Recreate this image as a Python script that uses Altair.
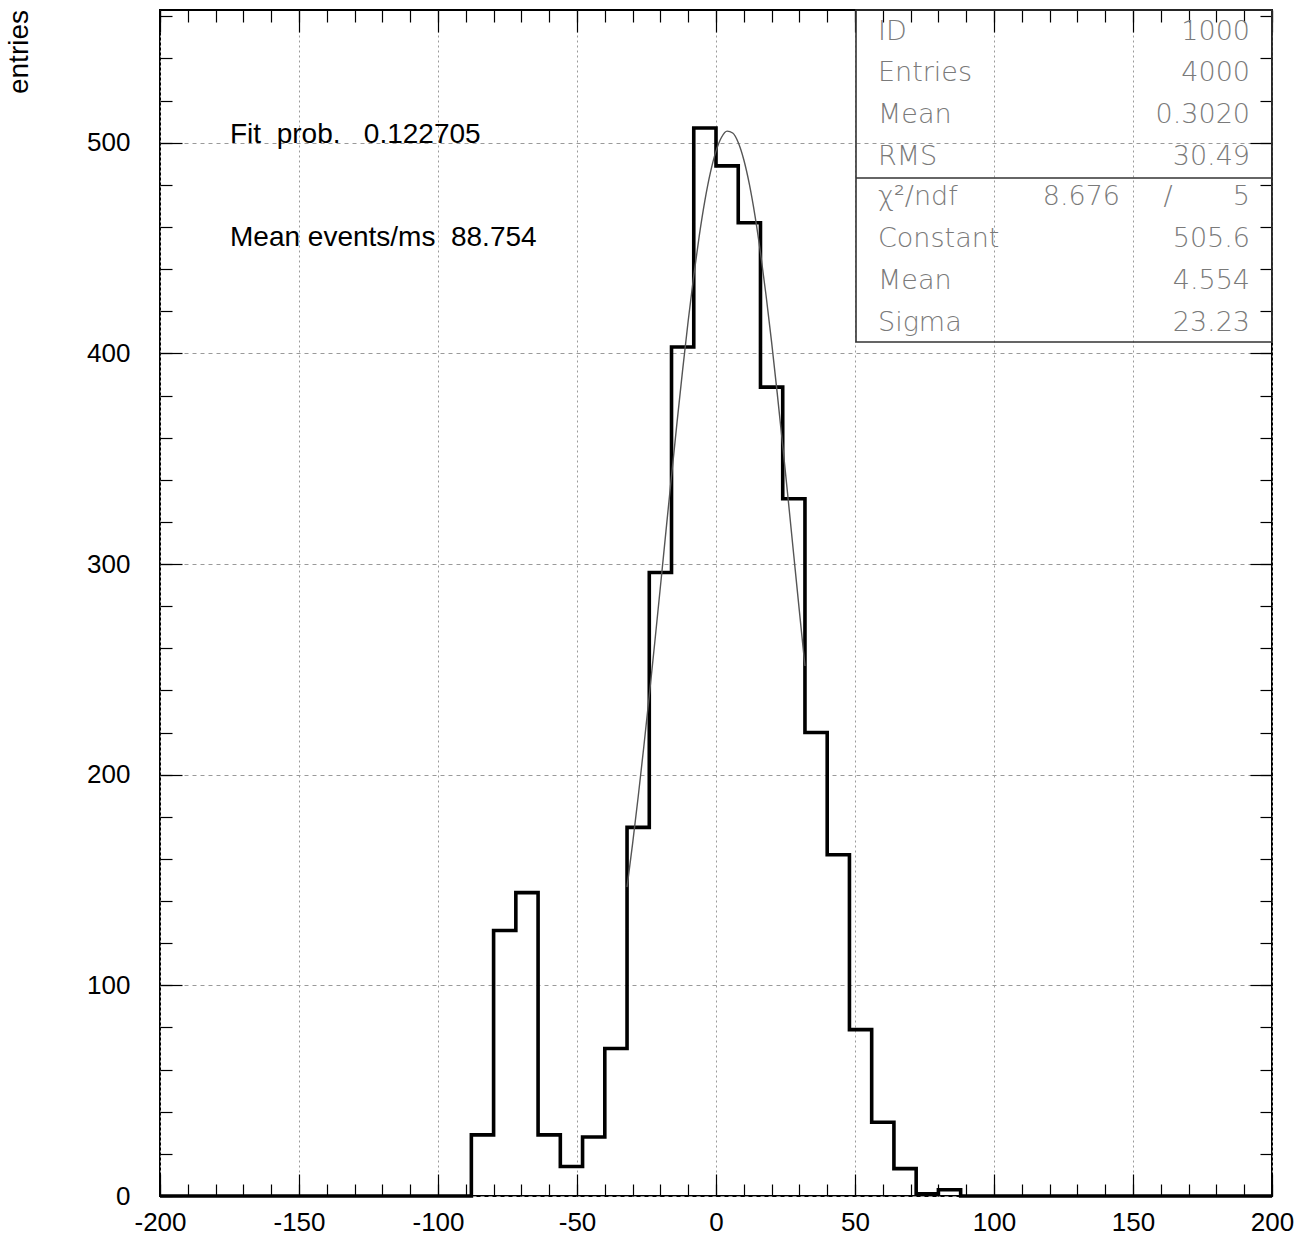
import altair as alt
import pandas as pd

# ---------------- data ----------------
bin_edges = [-200, -192, -184, -176, -168, -160, -152, -144, -136, -128,
             -120, -112, -104, -96, -88, -80, -72, -64, -56, -48,
             -40, -32, -24, -16, -8, 0, 8, 16, 24, 32,
             40, 48, 56, 64, 72, 80, 88, 96, 104, 112,
             120, 128, 136, 144, 152, 160, 168, 176, 184, 192, 200]
counts = [0, 0, 0, 0, 0, 0, 0, 0, 0, 0,
          0, 0, 0, 0, 29, 126, 144, 29, 14, 28,
          70, 175, 296, 403, 507, 489, 462, 384, 331, 220,
          162, 79, 35, 13, 1, 3, 0, 0, 0, 0,
          0, 0, 0, 0, 0, 0, 0, 0, 0, 0]

# Gaussian fit curve (fit range -32..32)
fit_x = [-32, -30, -28, -26, -24, -22, -20, -18, -16, -14, -12, -10, -8, -6, -4, -2,
         0, 2, 4, 6, 8, 10, 12, 14, 16, 18, 20, 22, 24, 26, 28, 30, 32]
fit_y = [146.6, 167.3, 189.4, 212.9, 237.5, 263.1, 289.2, 315.6, 341.8, 367.5, 392.2,
         415.5, 436.9, 456.0, 472.5, 485.9, 496.0, 502.6, 505.5, 504.6, 500.1, 491.9,
         480.3, 465.5, 447.8, 427.6, 405.3, 381.4, 356.2, 330.2, 303.8, 277.5, 251.6]

x_major = [-200, -150, -100, -50, 0, 50, 100, 150, 200]
y_major = [0, 100, 200, 300, 400, 500]
x_minor = list(range(-200, 201, 10))
y_minor = list(range(0, 561, 20))

stat_labels = ["ID", "Entries", "Mean", "RMS", "\u03c7\u00b2/ndf", "Constant", "Mean", "Sigma"]
stat_values = ["1000", "4000", "0.3020", "30.49", "5", "505.6", "4.554", "23.23"]
chi2_value = "8.676"
annotations = ["Fit\u00a0\u00a0prob.\u00a0\u00a0\u00a00.122705",
               "Mean events/ms\u00a0\u00a088.754"]
y_title = "entries"

# ---------------- layout ----------------
W, H = 1112, 1186
YMAX = 563
FONT = "Liberation Sans"

xs = alt.Scale(domain=[-200, 200], nice=False, zero=False)
ys = alt.Scale(domain=[0, YMAX], nice=False, zero=False)

hist_df = pd.DataFrame({"x": bin_edges, "y": counts + [0]})
fit_df = pd.DataFrame({"x": fit_x, "y": fit_y})

base = alt.Chart(hist_df)

hist = base.mark_line(interpolate="step-after", color="black", strokeWidth=3.6).encode(
    x=alt.X("x:Q", scale=xs, title=None,
            axis=alt.Axis(orient="bottom", values=x_major, grid=True, gridColor="#9a9a9a",
                          gridDash=[2, 3], gridWidth=1, ticks=False, domain=False,
                          labelFont=FONT, labelFontSize=26, labelColor="black",
                          labelPadding=13, labelFlush=False,
                          labelExpr="'' + datum.value")),
    y=alt.Y("y:Q", scale=ys, title=None,
            axis=alt.Axis(orient="left", values=y_major, grid=True, gridColor="#9a9a9a",
                          gridDash=[4, 4], gridWidth=1, ticks=False, domain=False,
                          labelFont=FONT, labelFontSize=26, labelColor="black",
                          labelPadding=30, labelFlush=False,
                          labelExpr="'' + datum.value")),
)

fit = alt.Chart(fit_df).mark_line(color="#555555", strokeWidth=1.4, interpolate="monotone").encode(
    x=alt.X("x:Q", scale=xs, axis=None),
    y=alt.Y("y:Q", scale=ys, axis=None),
)


def tick_layer(orient, values, size):
    tick_axis = dict(labels=False, domain=False, grid=False, ticks=True, tickSize=size,
                     tickColor="black", tickWidth=1.2, offset=-size, title=None)
    if orient in ("bottom", "top"):
        return base.mark_line(opacity=0).encode(
            x=alt.X("x:Q", scale=xs, axis=alt.Axis(orient=orient, values=values, **tick_axis)),
            y=alt.Y("y:Q", scale=ys, axis=None),
        )
    return base.mark_line(opacity=0).encode(
        x=alt.X("x:Q", scale=xs, axis=None),
        y=alt.Y("y:Q", scale=ys, axis=alt.Axis(orient=orient, values=values, **tick_axis)),
    )


def txt(s, x, y, size=26, color="black", align="left", font=FONT, angle=None, weight="normal"):
    kw = dict(align=align, baseline="middle", fontSize=size, color=color, font=font,
              fontWeight=weight)
    if angle is not None:
        kw["angle"] = angle
    return alt.Chart(pd.DataFrame({"t": [s]})).mark_text(**kw).encode(
        text="t:N", x=alt.value(x), y=alt.value(y))


layers = [hist, fit]
for o in ("bottom", "top"):
    layers.append(tick_layer(o, x_minor, 12))
    layers.append(tick_layer(o, x_major, 22))
for o in ("left", "right"):
    layers.append(tick_layer(o, y_minor, 12))
    layers.append(tick_layer(o, y_major, 22))

# stats box
box_left, box_bottom, box_div = 696, 332, 168
layers.append(
    alt.Chart(pd.DataFrame({"a": [0]})).mark_rect(fill=None, stroke="#333333", strokeWidth=1.6).encode(
        x=alt.value(box_left), x2=alt.value(W), y=alt.value(0), y2=alt.value(box_bottom))
)
layers.append(
    alt.Chart(pd.DataFrame({"a": [0]})).mark_rule(color="#333333", strokeWidth=1.6).encode(
        x=alt.value(box_left), x2=alt.value(W), y=alt.value(box_div))
)
row_y = [22, 63, 105, 147, 187, 229, 271, 313]
SFONT = "DejaVu Sans"
SCOL = "#7a7a7a"
SSIZE = 27
for lab, val, ry in zip(stat_labels, stat_values, row_y):
    layers.append(txt(lab, 718, ry, size=SSIZE, color=SCOL, font=SFONT, weight=300))
    layers.append(txt(val, 1090, ry, size=SSIZE, color=SCOL, font=SFONT, align="right", weight=300))
layers.append(txt(chi2_value, 960, row_y[4], size=SSIZE, color=SCOL, font=SFONT, align="right", weight=300))
layers.append(txt("/", 1008, row_y[4], size=SSIZE, color=SCOL, font=SFONT, align="center", weight=300))

# annotations
layers.append(txt(annotations[0], 70, 125, size=28))
layers.append(txt(annotations[1], 70, 228, size=28))

# y axis title
layers.append(txt(y_title, -140, 0, size=28, align="right", angle=270))

chart = alt.layer(*layers).resolve_axis(x="independent", y="independent").properties(
    width=W, height=H,
    autosize=alt.AutoSizeParams(type="none"),
    padding={"left": 160, "top": 10, "right": 32, "bottom": 45},
    background="white",
).configure_view(stroke="black", strokeWidth=2)

chart.save("out.html", embed_options={"renderer": "svg", "actions": False})
